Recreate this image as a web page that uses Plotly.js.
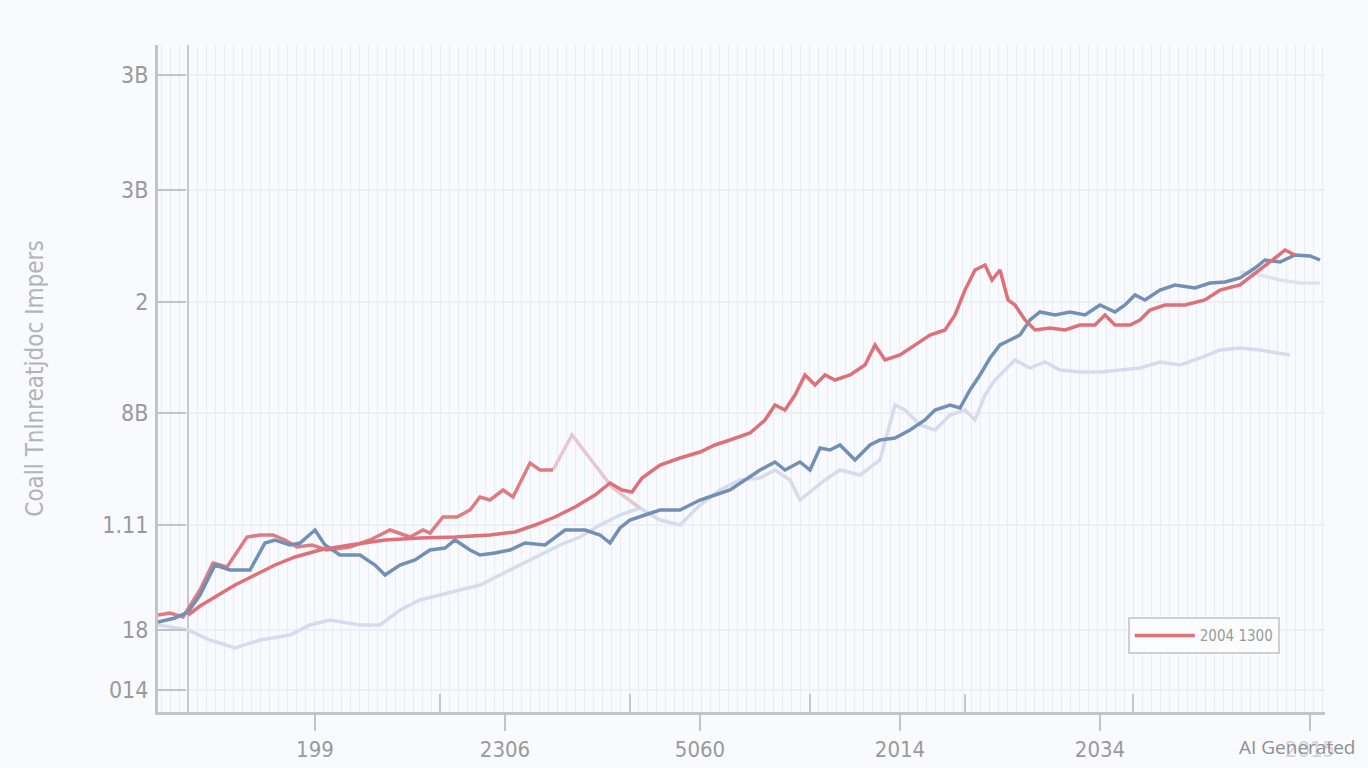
<!DOCTYPE html>
<html>
<head>
<meta charset="utf-8">
<script src="https://cdn.plot.ly/plotly-3.0.1.min.js"></script>
<style>
  html, body { margin: 0; padding: 0; background: #f8fafd; }
  #chart { width: 1368px; height: 768px; }
</style>
</head>
<body>
<div id="chart"></div>
<script>
// ─── Data ───

const redX = [0, 1.2, 2.7, 4.7, 6.7, 8.7, 10.7, 13.2, 16.2, 19.7, 23.2, 26.7, 30.2, 32.7, 34.7, 36.7, 38.7, 40.7, 42.2, 43.4, 44.4, 45.4, 47.2, 49.2, 51.2, 52.7, 54.2, 56.2, 57.7, 58.7, 59.7, 60.7, 61.7, 62.7, 63.7, 64.7, 66.2, 67.7, 68.7, 69.7, 71.2, 72.7, 74.2, 75.7, 76.7, 77.7, 78.7, 79.7, 80.4, 81.2, 82.0, 82.7, 83.7, 84.7, 86.2, 87.7, 89.2, 90.7, 91.7, 92.7, 94.2, 95.2, 96.2, 97.7, 99.7, 101.7, 103.2, 105.2, 107.2, 108.7, 109.7, 110.7];
const redY = [0.97, 1.06, 1.15, 1.27, 1.37, 1.47, 1.55, 1.62, 1.67, 1.72, 1.74, 1.75, 1.77, 1.80, 1.87, 1.95, 2.05, 2.17, 2.29, 2.22, 2.20, 2.34, 2.47, 2.54, 2.60, 2.67, 2.72, 2.79, 2.92, 3.07, 3.02, 3.17, 3.37, 3.27, 3.37, 3.32, 3.37, 3.47, 3.67, 3.52, 3.57, 3.67, 3.77, 3.82, 3.97, 4.22, 4.42, 4.47, 4.32, 4.42, 4.12, 4.07, 3.92, 3.82, 3.84, 3.82, 3.87, 3.87, 3.97, 3.87, 3.87, 3.92, 4.02, 4.07, 4.07, 4.12, 4.22, 4.27, 4.42, 4.54, 4.62, 4.57];

const redUpperX = [-3.0, -1.8, -0.5, 1.2, 2.5, 3.9, 5.9, 7.2, 8.5, 9.7, 10.9, 12.4, 13.9, 16.2, 18.2, 20.2, 22.2, 23.5, 24.2, 25.5, 26.9, 28.2, 29.2, 30.2, 31.5, 32.5, 34.2, 35.2, 36.5];
const redUpperY = [0.97, 0.99, 0.95, 1.22, 1.49, 1.45, 1.75, 1.77, 1.77, 1.72, 1.65, 1.67, 1.62, 1.65, 1.72, 1.82, 1.75, 1.82, 1.79, 1.95, 1.95, 2.02, 2.15, 2.12, 2.22, 2.15, 2.49, 2.42, 2.42];

const pinkX = [36.5, 37.5, 38.4, 39.7, 41.2, 42.4, 43.7, 45.2];
const pinkY = [2.42, 2.60, 2.77, 2.60, 2.40, 2.25, 2.15, 2.04];

const blueX = [-3.0, -1.3, 0, 1.2, 2.7, 4.2, 6.2, 7.7, 8.7, 10.2, 11.2, 12.7, 13.7, 15.2, 17.2, 18.7, 19.7, 21.2, 22.7, 24.2, 25.7, 26.7, 28.2, 29.2, 30.7, 32.2, 33.7, 35.7, 37.7, 39.7, 41.2, 42.2, 43.2, 44.2, 45.7, 47.2, 49.2, 51.2, 52.7, 54.2, 55.7, 57.2, 58.7, 59.7, 61.2, 62.2, 63.2, 64.2, 65.2, 66.7, 68.2, 69.2, 70.7, 72.2, 73.7, 74.7, 76.2, 77.2, 78.2, 79.2, 80.2, 81.2, 82.2, 83.2, 84.2, 85.2, 86.7, 88.2, 89.7, 91.2, 92.7, 93.7, 94.7, 95.7, 97.2, 98.7, 100.7, 102.2, 103.7, 105.2, 106.7, 107.7, 109.2, 110.7, 112.2, 113.2];
const blueY = [0.90, 0.94, 1.00, 1.17, 1.47, 1.42, 1.42, 1.69, 1.72, 1.67, 1.69, 1.82, 1.67, 1.57, 1.57, 1.47, 1.37, 1.47, 1.52, 1.62, 1.64, 1.72, 1.62, 1.57, 1.59, 1.62, 1.69, 1.67, 1.82, 1.82, 1.77, 1.69, 1.84, 1.92, 1.97, 2.02, 2.02, 2.12, 2.17, 2.22, 2.32, 2.42, 2.50, 2.42, 2.50, 2.42, 2.64, 2.62, 2.67, 2.52, 2.67, 2.72, 2.74, 2.82, 2.92, 3.02, 3.07, 3.04, 3.22, 3.37, 3.54, 3.67, 3.72, 3.77, 3.92, 4.00, 3.97, 4.00, 3.97, 4.07, 4.00, 4.07, 4.17, 4.12, 4.22, 4.27, 4.24, 4.29, 4.30, 4.34, 4.44, 4.52, 4.50, 4.57, 4.56, 4.52];

const lavX = [-3, 0, 2.2, 4.7, 7.2, 10.2, 12.2, 14.2, 17.2, 19.2, 21.2, 23.2, 25.2, 27.2, 29.2, 31.2, 33.2, 35.2, 37.2, 39.2, 41.2, 43.2, 45.2, 47.2, 49.2, 51.2, 53.2, 55.2, 57.2, 58.7, 60.2, 61.2, 62.2, 63.7, 65.2, 67.2, 69.2, 70.7, 71.7, 73.2, 74.7, 76.2, 77.7, 78.7, 79.7, 80.7, 81.7, 82.7, 84.2, 85.7, 87.2, 89.2, 91.2, 93.2, 95.2, 97.2, 99.2, 101.2, 103.2, 105.2, 107.2, 110.2];
const lavY = [0.87, 0.82, 0.72, 0.64, 0.72, 0.77, 0.87, 0.92, 0.87, 0.87, 1.02, 1.12, 1.17, 1.22, 1.27, 1.37, 1.47, 1.57, 1.67, 1.75, 1.87, 1.97, 2.04, 1.92, 1.87, 2.07, 2.22, 2.32, 2.34, 2.42, 2.32, 2.12, 2.20, 2.32, 2.42, 2.37, 2.52, 3.07, 3.02, 2.87, 2.82, 2.97, 3.02, 2.92, 3.17, 3.32, 3.42, 3.52, 3.44, 3.50, 3.42, 3.40, 3.40, 3.42, 3.44, 3.50, 3.47, 3.54, 3.62, 3.64, 3.62, 3.57];

const paleX = [105.2, 107.2, 109.2, 111.2, 113.2];
const paleY = [4.40, 4.37, 4.32, 4.29, 4.29];

const yTickVals = [6.37, 5.22, 4.10, 2.99, 1.87, 0.82, 0.22];
const yTickText = ["3B", "3B", "2", "8B", "1.11", "18", "014"];
const xTickVals = [12.7, 31.7, 51.2, 71.2, 91.2, 112.2];
const xTickText = ["199", "2306", "5060", "2014", "2034", "2015"];
const xInnerTicks = [0, 25.2, 44.2, 62.2, 77.7, 94.5];

const legendName = "2004 1300";
const yTitle = "Coall Tnlnreatjdoc Impers";

// ─── Traces ───

const line = (x, y, color, width, extra) => Object.assign({
  x, y, type: "scatter", mode: "lines",
  line: { color, width, shape: "linear" },
  showlegend: false, hoverinfo: "skip",
}, extra || {});

const traces = [
  line(lavX, lavY, "#d6dbee", 3.5),
  line(paleX, paleY, "#dfe3f1", 3.5),
  line(pinkX, pinkY, "#e6c9cf", 3.5),
  line(redUpperX, redUpperY, "#df7c83", 3.5),
  line(blueX, blueY, "#7290b6", 3.5),
  line(redX, redY, "#e07078", 3.5, { name: legendName, showlegend: true }),
  // carries the inner tick row on the bottom axis
  { x: [0], y: [0], xaxis: "x2", type: "scatter", mode: "markers",
    marker: { opacity: 0 }, showlegend: false, hoverinfo: "skip" },
];

const fam = "DejaVu Sans Condensed, Liberation Sans Narrow, sans-serif";
const tickFont = { family: fam, size: 22, color: "#9a9a9a" };

const layout = {
  width: 1368,
  height: 768,
  paper_bgcolor: "#f8fafd",
  plot_bgcolor: "#f8fafd",
  margin: { l: 158, r: 43, t: 45, b: 56 },
  xaxis: {
    range: [-3, 113.7],
    tickvals: xTickVals,
    ticktext: xTickText,
    tickfont: tickFont,
    ticks: "outside",
    ticklen: 16,
    tickwidth: 2,
    tickcolor: "#c4c4c4",
    showline: true,
    linecolor: "#c4c4c4",
    linewidth: 3,
    showgrid: false,
    zeroline: true,
    zerolinecolor: "#c8c8c8",
    zerolinewidth: 2,
    minor: { dtick: 0.9, showgrid: true, gridcolor: "#e7edf5", gridwidth: 1, ticks: "" },
    ticklabelstandoff: 0,
  },
  xaxis2: {
    overlaying: "x",
    anchor: "y",
    range: [-3, 113.7],
    tickvals: xInnerTicks,
    ticks: "inside",
    ticklen: 18,
    tickwidth: 2,
    tickcolor: "#c8c8c8",
    showticklabels: false,
    showgrid: false,
    zeroline: false,
    showline: false,
  },
  yaxis: {
    range: [0, 6.67],
    tickvals: yTickVals,
    ticktext: yTickText,
    tickfont: Object.assign({}, tickFont, { size: 23 }),
    ticks: "inside",
    ticklen: 28,
    tickwidth: 2,
    tickcolor: "#c4c4c4",
    showline: true,
    linecolor: "#c4c4c4",
    linewidth: 3,
    showgrid: true,
    gridcolor: "#eceff4",
    gridwidth: 2,
    zeroline: false,
    ticklabelstandoff: 2,
    title: {
      text: yTitle,
      font: { family: fam, size: 24, color: "#b4b4b4" },
      standoff: 52,
    },
  },
  showlegend: true,
  legend: {
    x: 0.831,
    y: 0.142,
    xanchor: "left",
    yanchor: "top",
    bgcolor: "#fbfcfe",
    bordercolor: "#cfcfcf",
    borderwidth: 2,
    font: { family: fam, size: 15, color: "#9a9a9a" },
    itemwidth: 60,
  },
  annotations: [{
    text: "AI Generated",
    xref: "paper", yref: "paper",
    x: 1.027, y: -0.03,
    xanchor: "right", yanchor: "top",
    showarrow: false,
    font: { family: "Open Sans, sans-serif", size: 19, color: "#8f8f8f" },
    bgcolor: "rgba(248,250,253,0.6)",
  }],
};

Plotly.newPlot("chart", traces, layout, { displayModeBar: false, responsive: false });
</script>
</body>
</html>
